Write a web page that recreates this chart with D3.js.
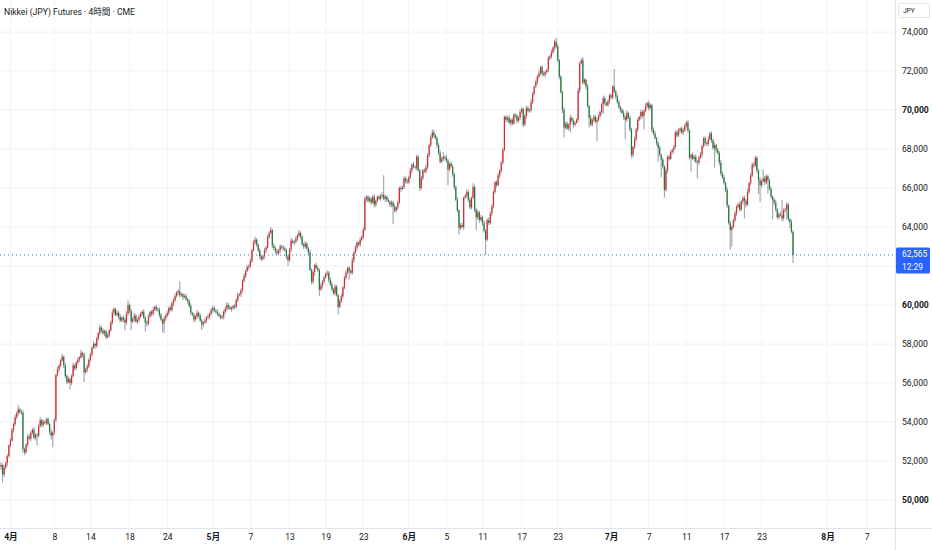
<!DOCTYPE html>
<html>
<head>
<meta charset="utf-8">
<script src="https://cdn.jsdelivr.net/npm/d3@7"></script>
<style>
body{margin:0;background:#fff}
svg{display:block}
text{font-family:Roboto,"Noto Sans CJK JP",sans-serif}
</style>
</head>
<body>
<div id="chart"></div>
<script>
// data
var title = "Nikkei (JPY) Futures · 4時間 · CME"
var firstOpen = 51700
var closes = [
51800,51300,51650,51900,52250,52800,53050,53600,53900,54250,
54450,54650,54500,54480,52600,52450,52850,53250,53150,53450,
53600,53200,53350,53300,53800,54100,53850,54000,53950,54150,
53900,53500,53300,53450,54100,56400,56700,56900,57150,57350,
56900,56350,56050,56200,56000,56350,56900,56750,57050,57200,
57300,57550,57450,56550,56700,56850,57200,57450,57800,58000,
57900,58250,58550,58850,58700,58550,58650,58350,58450,58700,
59100,59600,59800,59500,59600,59400,59200,59350,59250,59100,
59550,60000,59700,59150,59300,59450,59150,59250,59400,59550,
59650,59350,59100,59050,59400,59650,59550,59750,59900,59800,
59750,59500,59250,59050,59300,59450,59600,59850,59750,60100,
60250,60450,60650,60700,60500,60550,60400,60450,60300,60200,
59950,59600,59500,59250,59400,59600,59450,59200,59000,59100,
59200,59350,59400,59550,59750,59850,59700,59650,59550,59450,
59350,59400,59650,59800,60000,59900,59800,59850,59950,59900,
60250,60500,60550,60750,61250,61500,61750,61950,62000,62250,
62800,63200,63350,63100,62800,62500,62350,62500,62800,62950,
63500,63700,63850,63050,62900,62750,62650,62800,63000,62950,
62900,62800,62500,62300,62850,63300,63200,63250,63400,63550,
63700,63500,63100,63000,63150,62900,62700,61800,61200,61700,
62050,61900,61800,60800,61000,61200,61400,61600,61650,61300,
61050,60800,60600,60950,60500,59900,60200,60450,60900,61400,
61650,61900,61750,61650,62300,62700,62950,63200,63100,63350,
63500,63850,65450,65550,65350,65450,65250,65550,65150,65350,
65550,65450,65600,65650,65450,65550,65400,65300,65150,65250,
65050,64850,65000,65250,66000,65950,66050,66500,66350,66300,
66550,66900,67200,67100,67050,67600,66900,66000,66500,66900,
66850,67050,67700,68200,68600,68850,68700,68550,68200,67800,
67350,67500,67600,67550,67400,66950,67250,67100,66700,66050,
65400,64850,63950,64100,64000,65500,65600,65800,65400,65000,
65500,66050,64900,64500,64750,64350,64500,64200,63800,63350,
64350,64200,64700,65050,65800,66300,66150,66650,66900,67300,
67950,69650,69500,69600,69350,69500,69300,69750,69700,69450,
69600,69900,70050,69250,69700,70100,69950,70000,70400,70850,
71200,71450,71700,71900,72200,71850,71800,71950,72050,72650,
72750,72950,73200,73500,73250,72550,71700,70900,70000,69100,
69300,69050,69250,69600,69450,69250,69350,69500,71000,72400,
72550,71400,71550,71200,70200,69600,69250,69500,69650,69400,
69500,69700,69900,70300,70600,70350,70250,70450,70750,70650,
71200,70950,70700,70400,70150,70000,69850,69650,69500,69850,
69600,69000,67700,68100,68500,69000,69500,69650,69900,69700,
69950,70200,70350,70100,70250,69000,68800,68550,68300,68050,
67700,67450,67100,65900,66900,67600,67500,67850,67950,68100,
68850,68700,68950,69050,68850,68950,69200,69350,68950,67550,
67700,67500,67600,67350,67300,67550,67700,68150,68550,68300,
68250,68500,68800,68450,68050,68200,67950,67800,67300,66750,
66550,66250,65900,65100,64200,63850,64000,64350,64700,65050,
65150,64900,65300,65500,65350,65150,65800,66250,66650,67200,
67150,67550,66900,66400,66150,66350,66500,66300,66600,66400,
65950,65550,65400,65250,64900,64500,64650,64600,64450,64850,
64900,65150,64400,64250,63750,62565]
var wickUp = [
120,90,150,80,110,60,140,90,70,130,
100,220,80,120,150,90,60,110,140,70,
90,130,60,100,80,150,70,120,90,60,
110,80,140,60,90,70,120,100,80,150,
60,110,90,130,70,100,140,80,60,120,
90,150,70,110,80,130,60,100,90,140,
80,120,70,150,60,110,90,80,130,70,
100,160,90,60,120,80,140,70,110,90,
130,250,80,100,70,150,90,60,120,110,
80,140,70,100,130,60,90,150,80,110,
70,120,90,60,140,80,110,70,130,90,
100,150,80,120,500,90,60,110,140,70,
90,130,60,100,80,150,70,120,90,60,
110,80,140,60,90,120,100,80,150,70,
60,110,90,130,150,100,70,80,60,120,
90,150,70,110,80,130,60,100,90,140,
80,120,150,70,60,110,90,80,130,70,
100,90,150,60,120,80,140,70,110,90,
130,80,100,60,70,150,90,60,120,110,
140,80,70,100,130,60,90,150,80,110,
70,120,90,60,140,80,110,70,130,90,
100,150,80,120,90,60,110,140,70,90,
130,60,100,80,150,70,120,90,60,110,
80,140,120,60,90,120,100,80,150,70,
60,110,90,130,1000,100,70,80,60,120,
90,150,70,110,80,130,60,100,90,140,
80,120,70,150,60,110,90,80,130,70,
100,160,90,60,120,150,140,70,110,90,
130,100,250,70,150,90,60,120,110,80,
80,140,70,100,130,60,90,150,80,110,
70,200,90,60,140,80,110,70,130,90,
100,150,80,120,90,60,110,140,70,90,
130,60,100,80,150,70,120,90,60,110,
80,140,120,60,90,120,100,80,150,70,
60,110,90,130,70,100,140,80,60,120,
90,150,70,110,200,130,60,100,90,140,
80,120,70,150,60,110,90,80,130,70,
100,160,90,60,120,80,140,70,110,90,
130,100,80,70,150,90,60,120,110,80,
80,900,70,100,130,60,90,150,80,110,
70,120,90,60,140,80,110,70,130,90,
100,150,80,120,90,60,110,140,70,90,
130,60,100,80,150,70,120,90,60,110,
80,140,120,60,90,120,100,80,150,70,
60,110,90,130,70,100,140,80,60,120,
90,150,70,110,80,130,60,100,90,140,
80,120,70,150,60,110,90,80,130,70,
100,160,90,60,120,80,140,70,110,90,
130,100,80,70,150,90,450,120,110,80,
80,140,70,100,130,60,90,150,800,110,
70,120,90,60,140,80]
var wickDn = [
150,400,120,90,160,70,110,80,140,100,
90,130,70,110,180,150,80,120,60,140,
110,80,150,500,90,70,130,100,60,120,
80,140,200,600,110,90,70,150,100,60,
130,90,110,70,350,120,80,140,60,100,
110,70,130,500,90,150,80,120,100,60,
140,90,70,110,130,80,150,100,60,120,
90,110,140,70,100,130,80,60,150,400,
120,90,110,430,80,140,70,100,130,60,
110,80,450,150,90,70,130,100,60,120,
90,140,70,450,500,110,80,130,60,100,
150,90,70,120,110,80,140,60,100,130,
90,110,70,150,80,120,100,60,280,140,
70,110,90,130,80,150,60,100,120,90,
110,70,140,80,100,130,60,150,90,120,
80,110,70,140,100,90,130,60,150,120,
90,70,110,130,80,150,100,60,120,140,
70,110,90,130,80,150,60,100,120,90,
110,70,140,300,100,130,60,150,90,120,
80,110,70,140,100,90,130,60,150,120,
200,70,110,350,80,150,100,60,120,140,
70,110,90,130,80,400,60,100,120,90,
110,70,450,80,100,130,60,150,90,120,
80,110,70,140,100,90,130,60,150,120,
90,70,110,130,80,150,100,60,120,140,
900,110,90,130,80,150,60,100,120,90,
110,70,140,80,100,130,60,150,90,120,
80,110,70,140,100,90,130,60,150,120,
90,70,110,130,80,800,100,60,120,140,
70,110,350,130,80,150,60,100,120,90,
110,70,140,650,100,130,60,150,90,770,
80,110,70,140,100,90,130,60,150,120,
90,70,110,130,80,150,100,60,120,140,
70,110,90,130,80,150,60,100,120,90,
110,70,140,80,100,130,60,150,90,120,
80,110,70,140,100,90,130,60,150,500,
90,70,110,400,80,150,100,60,120,140,
70,110,90,130,80,500,60,100,120,90,
1000,110,90,130,500,150,60,100,120,90,
110,70,140,80,100,130,60,150,1000,120,
80,110,150,140,100,90,130,60,150,120,
700,70,110,130,80,150,100,60,120,700,
90,900,110,400,80,150,100,60,120,140,
70,110,90,130,80,150,60,100,120,90,
700,70,140,80,800,130,60,150,90,120,
80,110,70,140,100,1000,130,60,150,120,
90,70,110,130,80,1000,850,60,120,140,
70,110,90,130,900,150,60,100,120,90,
110,70,140,700,850,130,60,150,90,700,
80,110,1000,140,100,90,130,60,150,120,
90,500,110,300,80,410]
var priceTicks = [50000,52000,54000,56000,58000,60000,62000,64000,66000,68000,70000,72000,74000]
var timeLabels = ["4月","8","14","18","24","5月","7","13","19","23","6月","5","11","17","23","7月","7","11","17","23","8月","7"]
var timeBars = [6,34,57,82,106,135,159,184,207,231,260,284,307,332,355,389,413,437,461,485,527,552]
var lastPrice = 62565
var countdown = "12:29"
var currency = "JPY"

var svgW=932, svgH=550
var plotR=895, axisY=528
var upColor="#e0242f", downColor="#1e7a35", wickColor="#9ea1a8"
var gridColor="#f0f2f6", borderColor="#e0e3eb", textColor="#131722"

var candles = closes.map(function(c,i){
    var o = i==0 ? firstOpen : closes[i-1]
    return {i:i, o:o, c:c, h:Math.max(o,c)+wickUp[i], l:Math.min(o,c)-wickDn[i]}
})

var svg=d3.select('#chart').append('svg')
    .attr('width',svgW)
    .attr('height',svgH)

var xscale=d3.scaleLinear()
    .domain([0,candles.length-1])
    .range([1,793])
var yscale=d3.scaleLinear()
    .domain([50000,74000])
    .range([500,32])
var ly=yscale(lastPrice)

// grid
svg.append('g').selectAll('line').data(priceTicks).enter().append('line')
    .attr('x1',0).attr('x2',plotR)
    .attr('y1',d=>yscale(d)).attr('y2',d=>yscale(d))
    .attr('stroke',gridColor)
svg.append('g').selectAll('line').data(timeBars).enter().append('line')
    .attr('x1',d=>xscale(d)).attr('x2',d=>xscale(d))
    .attr('y1',0).attr('y2',axisY)
    .attr('stroke',gridColor)

// candles
var cg=svg.append('g')
cg.selectAll('line').data(candles).enter().append('line')
    .attr('x1',d=>xscale(d.i)).attr('x2',d=>xscale(d.i))
    .attr('y1',d=>yscale(d.h)).attr('y2',d=>yscale(d.l))
    .attr('stroke',wickColor).attr('stroke-width',1.1)
cg.selectAll('rect').data(candles).enter().append('rect')
    .attr('x',d=>xscale(d.i)-0.6)
    .attr('width',1.2)
    .attr('y',d=>yscale(Math.max(d.o,d.c)))
    .attr('height',d=>Math.max(1,Math.abs(yscale(d.o)-yscale(d.c))))
    .attr('fill',d=>d.c>=d.o?upColor:downColor)

// last price line
svg.append('line')
    .attr('x1',0).attr('x2',plotR)
    .attr('y1',ly).attr('y2',ly)
    .attr('stroke','#2962ff').attr('stroke-dasharray','1,3')

// borders
svg.append('rect').attr('x',plotR).attr('y',0).attr('width',svgW-plotR).attr('height',svgH).attr('fill','#fff')
svg.append('rect').attr('x',0).attr('y',axisY).attr('width',svgW).attr('height',svgH-axisY).attr('fill','#fff')
svg.append('line').attr('x1',plotR+0.5).attr('x2',plotR+0.5).attr('y1',0).attr('y2',svgH).attr('stroke',borderColor)
svg.append('line').attr('x1',0).attr('x2',svgW).attr('y1',axisY+0.5).attr('y2',axisY+0.5).attr('stroke',borderColor)

// axes (labels hidden under the price tag, as on the chart)
var yaxis=d3.axisRight(yscale)
    .tickValues(priceTicks.filter(d=>Math.abs(yscale(d)-ly)>16))
    .tickSize(0).tickPadding(7)
    .tickFormat(d3.format(','))
var ya=svg.append('g')
    .attr('transform',`translate(${plotR},0)`)
    .call(yaxis)
ya.select('.domain').remove()
ya.selectAll('text')
    .attr('fill',textColor).style('font-size','8.6px')
    .style('font-weight',d=>d%10000==0?'bold':'normal')

var xaxis=d3.axisBottom(xscale)
    .tickValues(timeBars)
    .tickSize(0).tickPadding(6)
    .tickFormat((d,i)=>timeLabels[i])
var xa=svg.append('g')
    .attr('transform',`translate(0,${axisY})`)
    .call(xaxis)
xa.select('.domain').remove()
xa.selectAll('text')
    .attr('fill',textColor).style('font-size','8.6px')
    .style('font-weight',(d,i)=>timeLabels[i].indexOf('月')>=0?'bold':'normal')

// price tag
svg.append('rect').attr('x',plotR+1).attr('y',ly-7.5).attr('width',34).attr('height',26).attr('rx',1.5).attr('fill','#2962ff')
svg.append('text').attr('x',plotR+7).attr('y',ly+2.5).attr('fill','#fff').style('font-size','8.4px').text(d3.format(',')(lastPrice))
svg.append('text').attr('x',plotR+7).attr('y',ly+15).attr('fill','#fff').style('font-size','8.4px').text(countdown)

// currency box
svg.append('rect').attr('x',898.5).attr('y',3.5).attr('width',31).attr('height',14).attr('rx',2)
    .attr('fill','#fff').attr('stroke',borderColor)
svg.append('text').attr('x',903).attr('y',13).attr('fill',textColor).style('font-size','6.5px').text(currency)

// title
svg.append('text').attr('x',4).attr('y',14.5).attr('fill',textColor).style('font-size','8.6px').text(title)
</script>
</body>
</html>
